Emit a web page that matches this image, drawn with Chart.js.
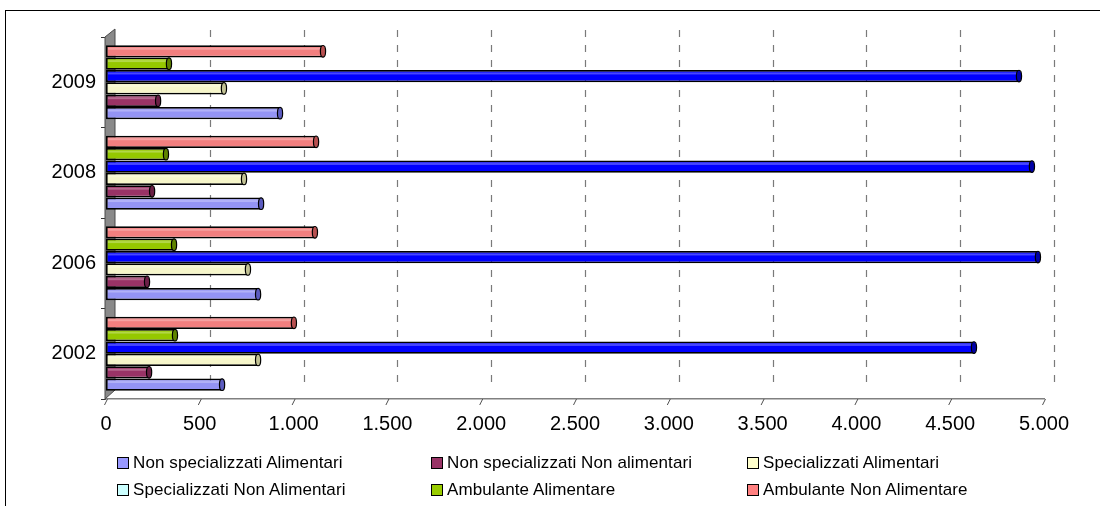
<!DOCTYPE html>
<html>
<head>
<meta charset="utf-8">
<script src="https://cdn.jsdelivr.net/npm/chart.js@4.4.1/dist/chart.umd.min.js"></script>
<style>
  html, body { margin: 0; padding: 0; background: #fff; }
  #wrap { position: relative; width: 1100px; height: 506px; overflow: hidden; }
  #frame { position: absolute; left: 5px; top: 10px; width: 1200px; height: 600px;
           border-left: 1.5px solid #000; border-top: 1.5px solid #000; box-sizing: border-box; }
  canvas { position: absolute; left: 0; top: 0; }
  .lg { position: absolute; font-family: "Liberation Sans", Arial, sans-serif; font-size: 17px;
        letter-spacing: 0.1px; color: #000; white-space: nowrap; line-height: 17px; }
  .lg .sw { display: inline-block; width: 10px; height: 10px; border: 1.3px solid #000;
            vertical-align: -1px; margin-right: 4px; }
</style>
</head>
<body>
<div id="wrap">
  <div id="frame"></div>
  <canvas id="c" width="1100" height="506"></canvas>
  <div id="legend"></div>
</div>
<script>
// Categories listed top to bottom as they appear
const categories = ['2009', '2008', '2006', '2002'];
const seriesNames = [
  'Non specializzati Alimentari',
  'Non specializzati Non alimentari',
  'Specializzati Alimentari',
  'Specializzati Non Alimentari',
  'Ambulante Alimentare',
  'Ambulante Non Alimentare'
];
const nonSpecAlimentari    = [933, 832, 816, 624];
const nonSpecNonAlimentari = [283, 251, 224, 235];
const specAlimentari       = [634, 741, 762, 816];
const specNonAlimentari    = [4872, 4941, 4973, 4632];
const ambulanteAlimentare  = [341, 325, 368, 373];
const ambulanteNonAlim     = [1162, 1125, 1119, 1007];
const xTickLabels = ['0', '500', '1.000', '1.500', '2.000', '2.500', '3.000', '3.500', '4.000', '4.500', '5.000'];

const seriesValues = [nonSpecAlimentari, nonSpecNonAlimentari, specAlimentari,
                      specNonAlimentari, ambulanteAlimentare, ambulanteNonAlim];
const barColors    = ['#9494F4', '#993366', '#F6F6CA', '#0000FF', '#95C800', '#F27F7F'];
const capColors    = ['#5c5cc0', '#6a1f45', '#c2c294', '#0000a8', '#5f8400', '#b85050'];
const legendColors = ['#9999FF', '#993366', '#FFFFCC', '#CCFFFF', '#99CC00', '#FF8080'];

// Chart.js puts dataset 0 at the top of each group; reference has the first series at the bottom
const datasets = seriesNames.map((name, i) => ({
  label: name,
  data: seriesValues[i],
  backgroundColor: barColors[i],
  borderColor: '#000',
  borderWidth: 1.7,
  borderSkipped: false,
  capColor: capColors[i],
  categoryPercentage: 0.82,
  barPercentage: 0.99
})).reverse();

const deco = {
  id: 'deco',
  beforeDatasetsDraw(chart) {
    const { ctx, chartArea: a, scales: { x } } = chart;
    ctx.save();
    ctx.strokeStyle = '#7a7a7a';
    ctx.lineWidth = 1.2;
    ctx.setLineDash([7, 8]);
    x.ticks.forEach(t => {
      if (t.value <= 0) return;
      const px = Math.round(x.getPixelForValue(t.value) + 10) + 0.5;
      ctx.beginPath();
      ctx.moveTo(px, a.top - 7);
      ctx.lineTo(px, a.bottom - 9);
      ctx.stroke();
    });
    ctx.setLineDash([]);
    ctx.fillStyle = '#8a8a8a';
    ctx.strokeStyle = '#4a4a4a';
    ctx.lineWidth = 1;
    ctx.beginPath();
    ctx.moveTo(a.left - 1, a.top);
    ctx.lineTo(a.left + 9, a.top - 8);
    ctx.lineTo(a.left + 9, a.bottom - 9);
    ctx.lineTo(a.left - 1, a.bottom);
    ctx.closePath();
    ctx.fill();
    ctx.stroke();
    ctx.restore();
  },
  afterDatasetsDraw(chart) {
    const { ctx } = chart;
    ctx.save();
    chart.data.datasets.forEach((ds, di) => {
      const meta = chart.getDatasetMeta(di);
      meta.data.forEach(el => {
        const p = el.getProps(['x', 'y', 'base', 'height'], true);
        const h = p.height;
        ctx.fillStyle = 'rgba(255,255,255,0.28)';
        ctx.fillRect(p.base + 2, p.y - h / 2 + 2.5, p.x - p.base - 5, 2);
        ctx.beginPath();
        ctx.ellipse(p.x - 1, p.y, 2.6, h / 2 - 0.3, 0, 0, Math.PI * 2);
        ctx.fillStyle = ds.capColor;
        ctx.fill();
        ctx.strokeStyle = '#000';
        ctx.lineWidth = 1.2;
        ctx.stroke();
      });
    });
    ctx.restore();
  },
  afterDraw(chart) {
    const { ctx, chartArea: a, scales: { x } } = chart;
    ctx.save();
    ctx.strokeStyle = '#505050';
    ctx.lineWidth = 1;
    x.ticks.forEach(t => {
      const px = x.getPixelForValue(t.value);
      ctx.beginPath();
      ctx.moveTo(px - 1.5, a.bottom + 6);
      ctx.lineTo(px + 1.5, a.bottom);
      ctx.stroke();
    });
    ctx.restore();
  }
};

new Chart(document.getElementById('c'), {
  type: 'bar',
  data: { labels: categories, datasets },
  options: {
    indexAxis: 'y',
    responsive: false,
    devicePixelRatio: 1,
    animation: false,
    layout: { padding: { top: 37, right: 56, bottom: 67, left: 0 } },
    plugins: { legend: { display: false }, tooltip: { enabled: false } },
    scales: {
      x: {
        min: 0, max: 5000,
        afterFit(s) { s.height = 40; },
        ticks: {
          stepSize: 500,
          padding: 13,
          color: '#000',
          font: { family: 'Liberation Sans', size: 20 },
          callback: (v, i) => xTickLabels[i]
        },
        grid: { display: false, drawTicks: false },
        border: { display: true, color: '#808080', width: 1.5 }
      },
      y: {
        afterFit(s) { s.width = 106; },
        ticks: {
          padding: 5,
          color: '#000',
          font: { family: 'Liberation Sans', size: 20 }
        },
        grid: { offset: true, drawOnChartArea: false, tickLength: 5, color: '#333', lineWidth: 1 },
        border: { display: false }
      }
    }
  },
  plugins: [deco]
});

const lgX = [117, 431, 747];
const lgY = [454, 481];
const legendEl = document.getElementById('legend');
seriesNames.forEach((name, i) => {
  const d = document.createElement('div');
  d.className = 'lg';
  d.style.left = lgX[i % 3] + 'px';
  d.style.top = lgY[Math.floor(i / 3)] + 'px';
  const sw = document.createElement('span');
  sw.className = 'sw';
  sw.style.background = legendColors[i];
  d.appendChild(sw);
  d.appendChild(document.createTextNode(name));
  legendEl.appendChild(d);
});
</script>
</body>
</html>
